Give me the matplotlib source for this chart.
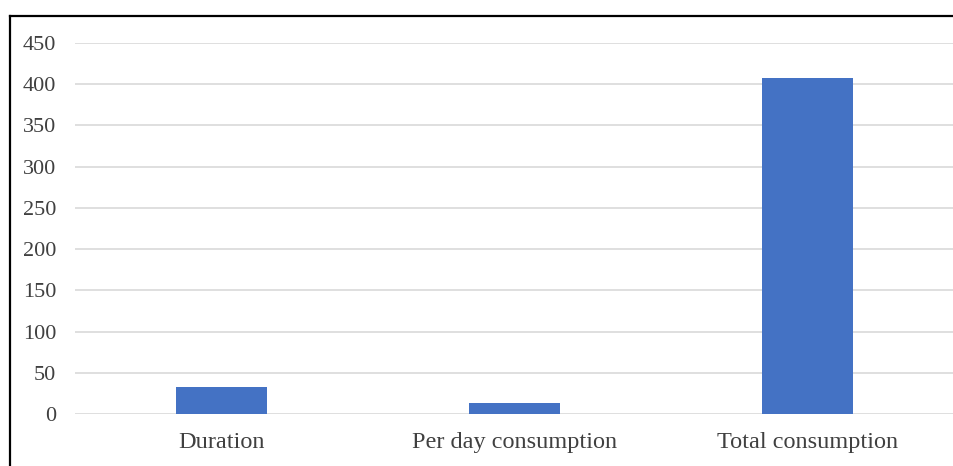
import numpy as np
import matplotlib.pyplot as plt
from matplotlib.lines import Line2D

categories = ["Duration", "Per day consumption", "Total consumption"]
values = [33, 13, 408]
yticks = [0, 50, 100, 150, 200, 250, 300, 350, 400, 450]

plt.rcParams["font.family"] = ["Liberation Serif", "DejaVu Serif"]

fig = plt.figure(figsize=(9.54, 4.66), dpi=100)
ax = fig.add_axes([75 / 954, 1 - 414 / 466, 879 / 954, (414 - 43) / 466])

x = np.arange(len(categories))
ax.bar(x, values, width=0.31, color="#4472C4", zorder=3)

ax.set_xlim(-0.5, len(categories) - 0.5)
ax.set_ylim(0, 450)
ax.set_yticks(yticks)
ax.set_xticks(x)
ax.set_xticklabels(categories)
ax.yaxis.grid(True, color="#d9d9d9", linewidth=1.2, zorder=0)
for s in ax.spines.values():
    s.set_visible(False)
ax.tick_params(axis="both", length=0, colors="#404040")
ax.tick_params(axis="y", labelsize=16, pad=13.5)
ax.tick_params(axis="x", labelsize=17.5, pad=13)

# outer frame (left and top edges visible in the crop)
fig.add_artist(Line2D([10 / 954, 10 / 954], [0, 1 - 16 / 466], color="black", linewidth=1.6))
fig.add_artist(Line2D([10 / 954, 1], [1 - 16 / 466, 1 - 16 / 466], color="black", linewidth=1.6))

fig.savefig("out.png", dpi=100)
